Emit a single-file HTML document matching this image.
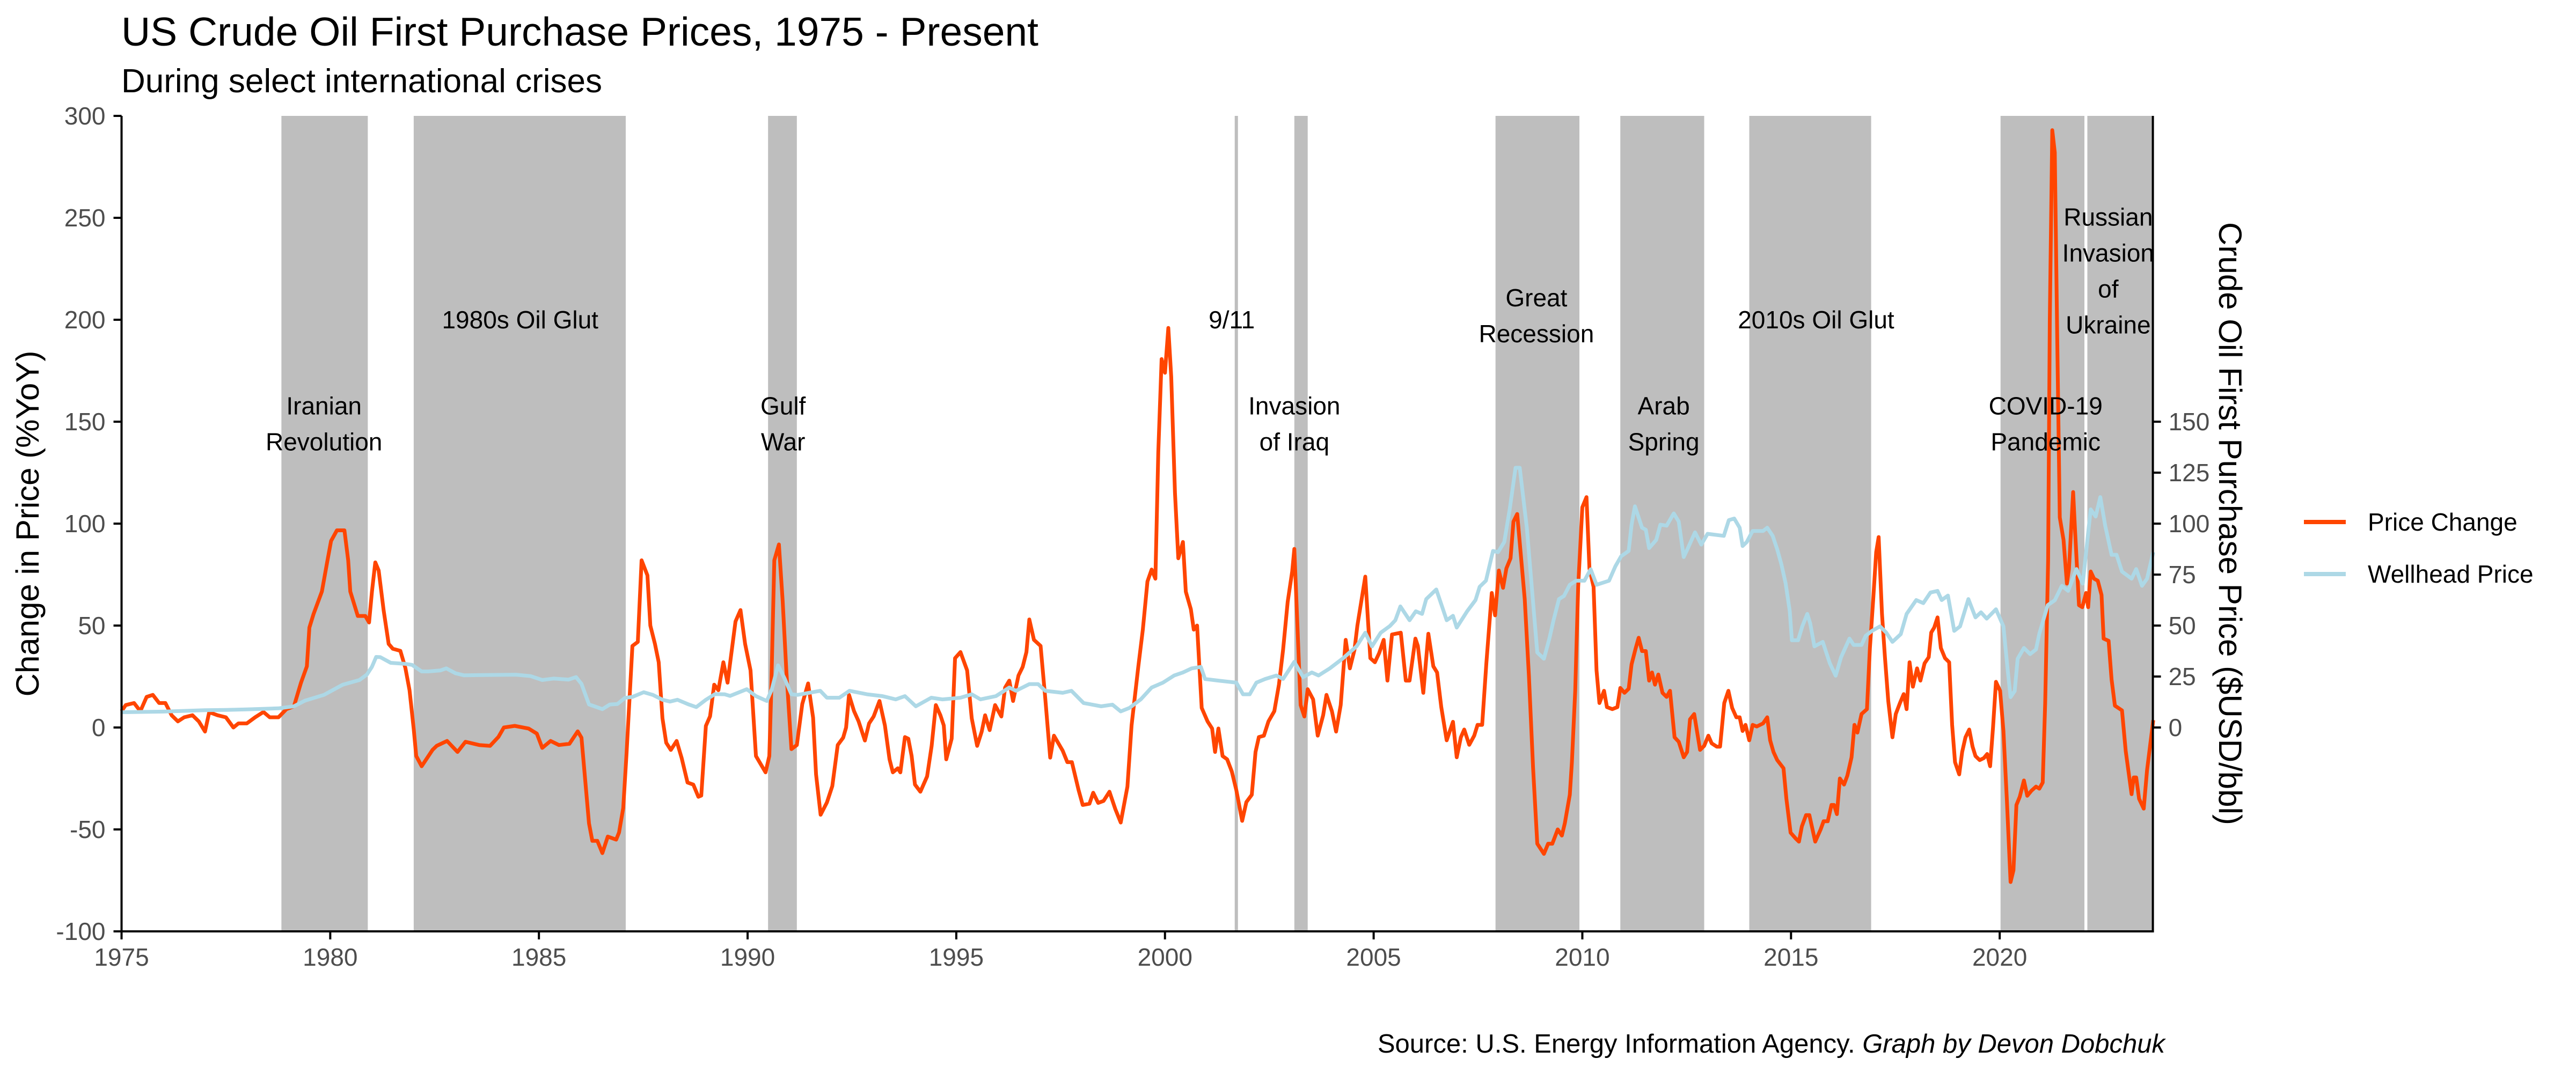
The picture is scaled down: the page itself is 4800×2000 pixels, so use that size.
<!DOCTYPE html>
<html><head><meta charset="utf-8"><style>
html,body{margin:0;padding:0;background:#fff;}
svg{display:block;font-family:"Liberation Sans",Arial,sans-serif;}
</style></head><body>
<svg id="chart" width="4800" height="2000" viewBox="0 0 4800 2000" xmlns="http://www.w3.org/2000/svg">
<text x="226" y="85" font-size="75" fill="#000">US Crude Oil First Purchase Prices, 1975 - Present</text>
<text x="226" y="172" font-size="62" fill="#000">During select international crises</text>
<g id="regions"></g>
<g id="series"></g>
<g id="annots"></g>
<g id="axes"></g>
<text transform="translate(72,976) rotate(-90)" text-anchor="middle" font-size="60" fill="#000">Change in Price (%YoY)</text>
<text transform="translate(4135,976) rotate(90)" text-anchor="middle" font-size="60" fill="#000">Crude Oil First Purchase Price ($USD/bbl)</text>
<g>
<line x1="4293" y1="973" x2="4371" y2="973" stroke="#FF4500" stroke-width="8"/>
<text x="4412" y="989" font-size="46">Price Change</text>
<line x1="4293" y1="1070" x2="4371" y2="1070" stroke="#ADD8E6" stroke-width="8"/>
<text x="4412" y="1086" font-size="46">Wellhead Price</text>
</g>
<text x="4034" y="1962" text-anchor="end" font-size="49" fill="#000">Source: U.S. Energy Information Agency. <tspan font-style="italic">Graph by Devon Dobchuk</tspan></text>
</svg>
<script>
const pcYears=[1975.0,1975.1,1975.3,1975.45,1975.6,1975.75,1975.9,1976.05,1976.2,1976.35,1976.5,1976.7,1976.85,1977.0,1977.1,1977.3,1977.5,1977.68,1977.8,1978.0,1978.2,1978.4,1978.55,1978.76,1978.95,1979.13,1979.3,1979.44,1979.5,1979.6,1979.8,1979.93,1980.02,1980.16,1980.34,1980.43,1980.48,1980.66,1980.84,1980.93,1981.0,1981.08,1981.16,1981.28,1981.4,1981.5,1981.68,1981.8,1981.9,1982.0,1982.06,1982.19,1982.45,1982.55,1982.8,1983.05,1983.24,1983.57,1983.83,1984.03,1984.16,1984.42,1984.75,1984.95,1985.08,1985.28,1985.48,1985.73,1985.93,1986.02,1986.2,1986.28,1986.4,1986.52,1986.65,1986.85,1986.92,1987.02,1987.1,1987.24,1987.37,1987.46,1987.6,1987.67,1987.78,1987.87,1987.96,1988.05,1988.16,1988.3,1988.42,1988.56,1988.7,1988.82,1988.89,1989.0,1989.1,1989.2,1989.3,1989.42,1989.52,1989.71,1989.83,1989.94,1990.07,1990.2,1990.43,1990.52,1990.56,1990.64,1990.75,1990.84,1990.93,1991.05,1991.18,1991.31,1991.45,1991.57,1991.64,1991.75,1991.9,1992.03,1992.16,1992.29,1992.36,1992.43,1992.55,1992.66,1992.81,1992.91,1993.02,1993.16,1993.29,1993.4,1993.48,1993.6,1993.66,1993.77,1993.85,1993.93,1994.01,1994.14,1994.3,1994.41,1994.51,1994.62,1994.7,1994.76,1994.89,1994.97,1995.1,1995.26,1995.37,1995.5,1995.61,1995.69,1995.8,1995.93,1996.08,1996.17,1996.27,1996.36,1996.49,1996.59,1996.68,1996.75,1996.86,1997.02,1997.13,1997.25,1997.34,1997.55,1997.66,1997.77,1997.93,1998.03,1998.19,1998.28,1998.4,1998.53,1998.67,1998.81,1998.94,1999.1,1999.2,1999.36,1999.47,1999.58,1999.68,1999.77,1999.84,1999.92,2000.0,2000.08,2000.15,2000.24,2000.32,2000.43,2000.5,2000.62,2000.69,2000.77,2000.88,2001.02,2001.13,2001.2,2001.28,2001.38,2001.49,2001.6,2001.71,2001.85,2001.95,2002.08,2002.17,2002.25,2002.37,2002.48,2002.62,2002.73,2002.83,2002.94,2003.05,2003.1,2003.17,2003.25,2003.34,2003.42,2003.55,2003.66,2003.79,2003.87,2004.0,2004.1,2004.21,2004.33,2004.43,2004.54,2004.61,2004.8,2004.92,2005.03,2005.13,2005.24,2005.33,2005.44,2005.65,2005.77,2005.86,2006.0,2006.06,2006.19,2006.31,2006.43,2006.52,2006.62,2006.75,2006.9,2006.99,2007.09,2007.17,2007.29,2007.41,2007.49,2007.6,2007.7,2007.83,2007.91,2008.0,2008.1,2008.18,2008.28,2008.35,2008.44,2008.52,2008.62,2008.72,2008.82,2008.92,2009.08,2009.18,2009.28,2009.41,2009.51,2009.58,2009.7,2009.75,2009.83,2009.9,2010.0,2010.1,2010.17,2010.27,2010.34,2010.41,2010.52,2010.59,2010.72,2010.84,2010.91,2011.01,2011.11,2011.18,2011.28,2011.35,2011.43,2011.52,2011.6,2011.67,2011.74,2011.82,2011.92,2012.02,2012.1,2012.21,2012.31,2012.43,2012.51,2012.58,2012.68,2012.82,2012.92,2013.02,2013.1,2013.22,2013.3,2013.4,2013.5,2013.59,2013.69,2013.77,2013.84,2013.91,2014.0,2014.08,2014.18,2014.33,2014.43,2014.5,2014.58,2014.67,2014.82,2014.89,2014.99,2015.12,2015.19,2015.26,2015.36,2015.44,2015.58,2015.71,2015.78,2015.88,2015.97,2016.03,2016.1,2016.17,2016.27,2016.35,2016.45,2016.52,2016.59,2016.69,2016.82,2016.89,2016.97,2017.04,2017.1,2017.18,2017.25,2017.33,2017.43,2017.51,2017.61,2017.7,2017.77,2017.84,2017.92,2018.02,2018.1,2018.2,2018.3,2018.36,2018.43,2018.51,2018.59,2018.69,2018.79,2018.86,2018.93,2019.03,2019.1,2019.18,2019.27,2019.35,2019.42,2019.52,2019.62,2019.7,2019.77,2019.84,2019.91,2020.01,2020.09,2020.17,2020.26,2020.33,2020.4,2020.48,2020.58,2020.66,2020.76,2020.87,2020.95,2021.03,2021.09,2021.16,2021.2,2021.26,2021.32,2021.38,2021.44,2021.53,2021.61,2021.66,2021.76,2021.8,2021.9,2021.98,2022.07,2022.12,2022.18,2022.26,2022.35,2022.44,2022.49,2022.61,2022.68,2022.76,2022.93,2023.02,2023.16,2023.21,2023.27,2023.34,2023.45,2023.53,2023.68];
const pcValues=[8,11,12,8,15,16,12,12,6,3,5,6,3,-2,7.5,6,5,0,2,2,5,7.6,5,5,9,10.4,22,30,49,55.6,66.7,81.5,91.5,96.7,96.7,82,66.7,54.7,54.7,51.5,66.7,81,77,57.4,41,38.6,37.6,29.3,18.3,-0.7,-14,-19,-11,-9,-6.6,-12,-7,-8.6,-9,-4.6,0,0.8,-0.5,-3,-10,-6.6,-8.6,-8,-1.9,-5,-47,-55.6,-55.6,-61.6,-53.5,-55,-51.5,-39.5,-12.6,40,42,82,74.6,50,41,32,4.5,-7.5,-11,-6.6,-15,-27,-28,-34,-33.4,0.8,5.5,21,18.3,32,22,52,57.6,41,28,-14,-22,-14,13,82,89.8,62,27,-10.6,-8.6,11.5,21.6,4.8,-23,-42.8,-36.8,-28.7,-8.6,-5,0,16,8,3,-6.4,2,5.4,13,1,-15.6,-22,-20,-22,-4.7,-5.5,-14,-28,-31.5,-24,-9,11,6,1,-15.6,-5.5,34,37,28,4.5,-9,-2,6,-1.3,11,5.4,19.6,23,13,25.5,29.7,37,53,43,40,14.6,-14.8,-4,-11.4,-17,-17,-30.7,-38,-37.4,-32,-37,-36,-31.5,-40,-46.6,-29,1,29.7,48,71.6,77.5,73,135,180.7,174,196,172,115,83,91,66.6,58,48,50,9.6,3,-0.5,-12,-0.5,-14,-15.6,-21.5,-30.7,-45.8,-36.6,-33,-12,-4.7,-4,3,8,21,38,61.6,76.7,87.6,51.5,11,5.4,18.8,13.8,-4,6,16,8,-2,11,43,29,38,50,74,34,32,36.4,43,23,45.6,46.5,23,23,43.6,40,17,46,30,27,10,-6.3,2.8,-14.6,-4.8,-1,-8.5,-4,1.3,1.3,31.5,66,55,77,68.5,78,83,101,104.7,86,63,25.4,-20,-57,-62,-57,-57,-50,-53,-47,-33,-17,18,69,108,113,78,69,28,12,18,10,9,10,19.4,17,19,31,39,44,37.5,37.5,23,27,21,26,17,15,18,-4.8,-7,-14.6,-12,4,6.6,-11,-9,-4,-7.8,-9.4,-9.4,12,18,9.6,5,5,-1.7,1.3,-6.3,1.3,0.5,2,5,-6.3,-12,-16,-20,-35,-51.6,-54.6,-56,-48.5,-43,-43,-56,-50,-46,-46,-38,-38,-42.5,-25,-28,-23.6,-14.6,1.3,-2.5,6.6,9,39,63,86,93.4,55.7,34.5,13,-4.8,6.6,12,16.4,9,32,20,29,23,31.5,34.5,46.6,49,54,39,34,32,1.3,-17,-23,-12,-4.8,-1,-9.4,-14,-16,-15,-13,-19,0,22.4,18,-1.7,-35,-75.8,-70,-38,-34,-26,-33.5,-31,-29,-30,-27,12,82,200,293,282,188,103,92,70.6,77.7,115.5,99,60,59,66,59,76.5,73,72,65,43.6,42.5,23.6,10.7,8.4,-11.6,-32.7,-24.5,-24.5,-35,-39.8,-21,3.6];
const whYears=[1975.0,1976.0,1977.0,1977.5,1978.0,1978.76,1979.13,1979.4,1979.85,1980.3,1980.7,1980.88,1981.0,1981.1,1981.2,1981.45,1981.8,1981.96,1982.19,1982.35,1982.64,1982.78,1983.0,1983.2,1984.45,1984.8,1985.08,1985.35,1985.71,1985.89,1986.02,1986.2,1986.33,1986.52,1986.7,1986.88,1987.06,1987.24,1987.51,1987.73,1987.96,1988.14,1988.32,1988.59,1988.77,1989.0,1989.22,1989.45,1989.58,1989.98,1990.2,1990.46,1990.58,1990.73,1990.88,1991.05,1991.2,1991.74,1991.9,1992.2,1992.44,1992.86,1993.23,1993.55,1993.77,1994.03,1994.4,1994.67,1995.1,1995.37,1995.58,1995.95,1996.27,1996.43,1996.75,1996.96,1997.13,1997.55,1997.76,1998.05,1998.47,1998.74,1998.94,1999.15,1999.42,1999.68,1999.95,2000.22,2000.43,2000.64,2000.86,2000.96,2001.28,2001.71,2001.87,2002.03,2002.19,2002.4,2002.67,2002.83,2003.1,2003.31,2003.52,2003.68,2003.95,2004.27,2004.59,2004.8,2004.96,2005.17,2005.39,2005.52,2005.64,2005.86,2006.01,2006.16,2006.26,2006.5,2006.75,2006.9,2006.99,2007.24,2007.44,2007.54,2007.69,2007.86,2007.98,2008.13,2008.26,2008.4,2008.5,2008.67,2008.92,2009.08,2009.21,2009.31,2009.44,2009.56,2009.7,2009.85,2010.05,2010.2,2010.34,2010.64,2010.79,2010.93,2011.11,2011.18,2011.26,2011.43,2011.52,2011.6,2011.77,2011.87,2012.02,2012.19,2012.31,2012.43,2012.53,2012.7,2012.85,2013.0,2013.39,2013.51,2013.64,2013.77,2013.84,2013.94,2014.08,2014.33,2014.43,2014.56,2014.67,2014.77,2014.87,2014.97,2015.02,2015.17,2015.27,2015.39,2015.46,2015.56,2015.76,2015.93,2016.07,2016.2,2016.4,2016.5,2016.69,2016.79,2016.94,2017.13,2017.28,2017.43,2017.63,2017.77,2018.0,2018.17,2018.34,2018.51,2018.61,2018.76,2018.91,2019.05,2019.25,2019.42,2019.55,2019.69,2019.91,2020.09,2020.19,2020.26,2020.36,2020.43,2020.58,2020.73,2020.87,2020.95,2021.15,2021.32,2021.49,2021.64,2021.84,2021.99,2022.18,2022.3,2022.41,2022.53,2022.68,2022.8,2022.93,2023.16,2023.27,2023.41,2023.53,2023.68];
const whValues=[7.5,7.8,8.5,8.6,8.9,9.4,10.4,13.2,16,21,23.3,26,29.8,34.6,34.5,31.7,31.2,30.7,27.5,27.5,28,29,26.6,25.6,25.9,25.2,23.3,24,23.5,24.7,21.4,11.3,10.4,9,11.3,11.5,14.5,15,17.3,16,13.6,12.7,13.6,11.3,10,13.6,16.4,16.3,15.5,18.8,15.4,13,18.7,30.5,24.3,16.3,16,18,14.6,14.6,18,16.3,15.4,13.8,15.4,10.4,14.6,13.8,14.6,16.3,13.8,15.4,19.6,18,21.3,21.3,18,17,18,12,10.4,11.2,7.9,9.6,13.8,19.6,22,25.5,27,29,29.7,23.8,23,22,16.3,16.3,22,23.8,25.5,23.8,32.2,24.7,27,25.5,29,34,39.8,46.5,39.8,46.5,49.8,52.6,59.4,52.6,57,55.7,63,67.7,52.6,54.8,49,57,62.5,69,72,86.6,86,91,107,127.4,127.4,98,36.8,33.7,43.6,52.6,63,64.5,70,72,72,77.6,70,72,79,84,86.6,99.5,108.5,98,97,88,92,99.5,99,105,101,83.6,88,95.7,89.7,95,94,101.7,102.5,98,89,91,96.4,96.4,98,94,87.4,80,70.8,57,42.8,42.8,49.6,55.7,51,39.8,42,31.5,25.4,34.5,43.6,40.5,40.5,45,47.4,49.6,46.6,42,45.8,55.7,62.5,61,66.2,67,62.5,64.7,47.4,49.6,63,54,56.5,53.4,58,49.6,28.5,14.9,17.9,33.7,39,36,38.3,46,60,62.4,69.5,67,77.7,70.6,107,103.5,113,98.8,84.7,84.7,76.5,73,77.7,69.5,73,86];
const regionStarts=[1978.83,1982.0,1990.49,2003.1,2007.92,2010.91,2014.0,2020.02,2022.1];
const regionEnds=[1980.9,1987.08,1991.18,2003.42,2009.93,2012.92,2016.92,2022.03,2023.67];
const xTickYears=[1975,1980,1985,1990,1995,2000,2005,2010,2015,2020];
const leftTicks=[-100,-50,0,50,100,150,200,250,300];
const rightTicks=[0,25,50,75,100,125,150];
const annotYears=[1979.85,1984.55,1990.85,2001.6,2003.1,2008.9,2011.95,2015.6,2021.1,2022.6];
const annotValues=[149,200,149,200,149,202,149,200,149,224];
const annotTexts=[["Iranian","Revolution"],["1980s Oil Glut"],["Gulf","War"],["9/11"],["Invasion","of Iraq"],["Great","Recession"],["Arab","Spring"],["2010s Oil Glut"],["COVID-19","Pandemic"],["Russian","Invasion","of","Ukraine"]];

const NS="http://www.w3.org/2000/svg";
const X0=226.5,PXY=77.77,Y0=1356,PXV=3.8;
function xs(y){return X0+(y-1975)*PXY;}
function ys(v){return Y0-v*PXV;}
const XMAX=2023.67,YTOP=ys(300),YBOT=ys(-100);
function mk(tag,attrs,parent){const e=document.createElementNS(NS,tag);for(const k in attrs)e.setAttribute(k,attrs[k]);parent.appendChild(e);return e;}

const gR=document.getElementById('regions');
for(let i=0;i<regionStarts.length;i++){
  const r=mk('rect',{x:xs(regionStarts[i]),y:YTOP,width:xs(regionEnds[i])-xs(regionStarts[i]),height:YBOT-YTOP,fill:'#BEBEBE'},gR);
  
  
}
const l911=mk('line',{x1:xs(2001.71),x2:xs(2001.71),y1:YTOP,y2:YBOT,stroke:'#BEBEBE','stroke-width':6},gR);



const gS=document.getElementById('series');
function path(yrs,vals){return yrs.map((y,i)=>(i?'L':'M')+xs(y).toFixed(1)+','+ys(vals[i]).toFixed(1)).join('');}
const pc=mk('path',{d:path(pcYears,pcValues),fill:'none',stroke:'#FF4500','stroke-width':7,'stroke-linejoin':'round'},gS);


const wh=mk('path',{d:path(whYears,whValues),fill:'none',stroke:'#ADD8E6','stroke-width':7,'stroke-linejoin':'round'},gS);



const gA=document.getElementById('annots');
for(let i=0;i<annotTexts.length;i++){
  const lines=annotTexts[i],n=lines.length,cy=ys(annotValues[i]);
  const t=mk('text',{'text-anchor':'middle','font-size':46,fill:'#000'},gA);
  
  
  lines.forEach((s,j)=>{const ts=mk('tspan',{x:xs(annotYears[i]),y:(cy+(j-(n-1)/2)*67+16).toFixed(1)},t);ts.textContent=s;});
}

const gX=document.getElementById('axes');
const ax=mk('path',{d:`M${X0},${YTOP}L${X0},${YBOT}L${xs(XMAX)},${YBOT}L${xs(XMAX)},${YTOP}`,fill:'none',stroke:'#000','stroke-width':4},gX);


leftTicks.forEach(v=>{
  const tk=mk('line',{x1:X0-15,x2:X0,y1:ys(v),y2:ys(v),stroke:'#000','stroke-width':4},gX);
  
  
  const t=mk('text',{x:X0-30,y:ys(v)+16,'text-anchor':'end','font-size':46,fill:'#4D4D4D'},gX);
  
  
  t.textContent=v;
});
rightTicks.forEach(v=>{
  const xr=xs(XMAX);
  const tk=mk('line',{x1:xr,x2:xr+15,y1:ys(v),y2:ys(v),stroke:'#000','stroke-width':4},gX);
  
  
  const t=mk('text',{x:xr+29,y:ys(v)+16,'font-size':46,fill:'#4D4D4D'},gX);
  
  
  t.textContent=v;
});
xTickYears.forEach(y=>{
  const tk=mk('line',{x1:xs(y),x2:xs(y),y1:YBOT,y2:YBOT+15,stroke:'#000','stroke-width':4},gX);
  
  
  const t=mk('text',{x:xs(y),y:YBOT+64,'text-anchor':'middle','font-size':46,fill:'#4D4D4D'},gX);
  
  
  t.textContent=y;
});
</script>
</body></html>
